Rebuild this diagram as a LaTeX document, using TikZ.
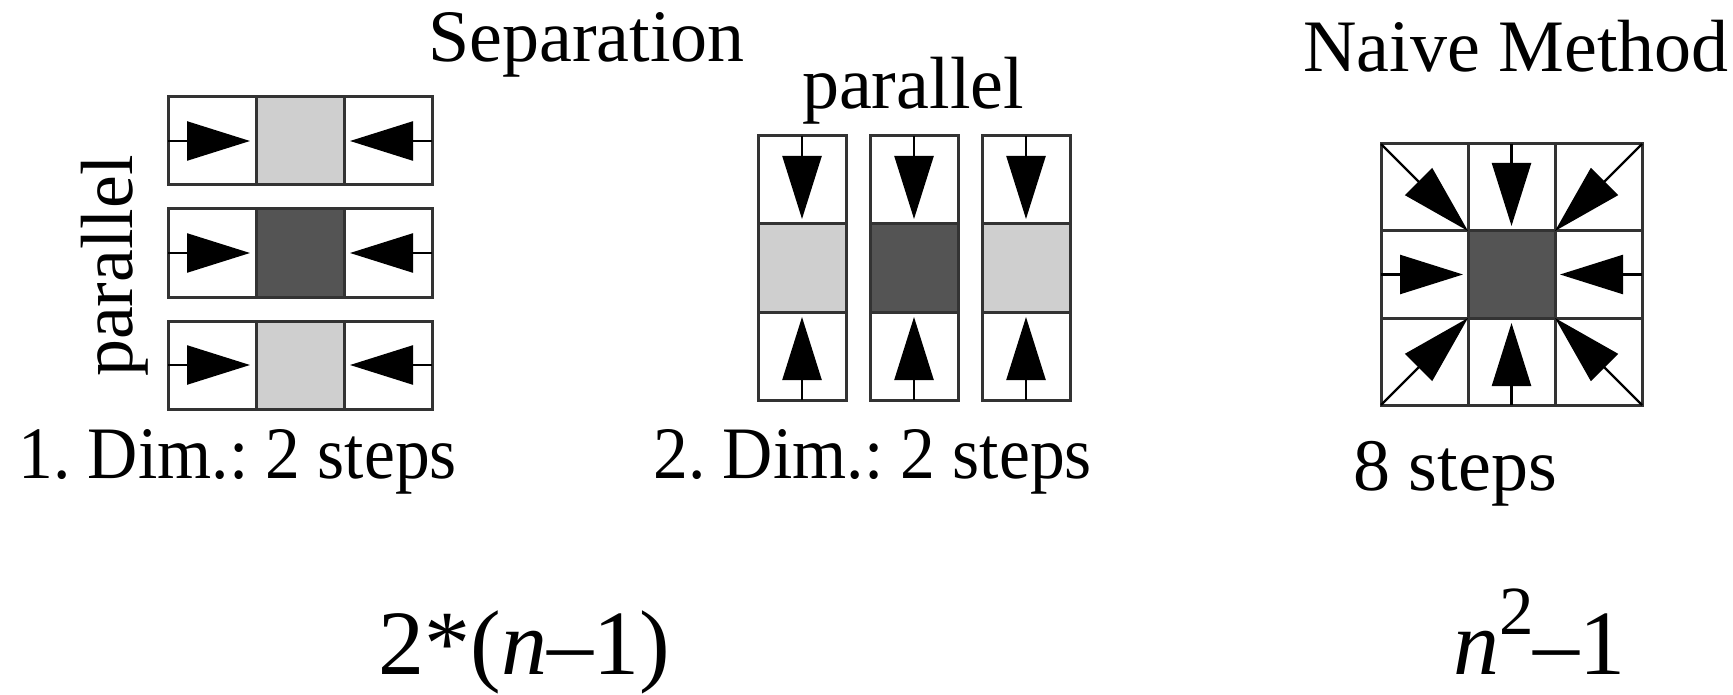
\documentclass[tikz,border=0pt]{standalone}
\usepackage{fontspec}
\setmainfont{Liberation Serif}
\usetikzlibrary{arrows.meta,calc}
\frenchspacing
\definecolor{CpixL}{gray}{0.81}
\definecolor{CpixD}{gray}{0.33}
\definecolor{Cgrid}{gray}{0.2}
\tikzset{
gridline/.style={draw=Cgrid, line width=1.5pt},
push/.style={line width=1.2pt, -{Triangle[length=31.5pt, width=19.5pt]}},
pushdiag/.style={line width=1.2pt, -{Triangle[length=35pt, width=19pt]}},
lbl/.style={inner sep=0pt, anchor=base west, font=\fontsize{37}{44}\selectfont},
formula/.style={inner sep=0pt, anchor=base west, text depth=0pt, font=\fontsize{46}{54}\selectfont},
}
\newcommand\bigsup[1]{\raisebox{0.43em}{\fontsize{34.5}{40}\selectfont #1}}

\begin{document}
\begin{tikzpicture}[x=0.5pt, y=-0.5pt]
\useasboundingbox (0,0) rectangle (1733,695);
\begin{scope}

%% Definitions
\pgfmathsetmacro{\cs}{88}
\pgfmathsetmacro{\csN}{87}

\newcommand\rowbox[3]
{
% left x: #1
% top y: #2
% pixel colour: #3
\fill[#3] (#1+\cs,#2) rectangle ++(\cs,\cs);
\draw[gridline] (#1,#2) rectangle ++(3*\cs,\cs);
\draw[gridline] (#1+\cs,#2) -- ++(0,\cs) (#1+2*\cs,#2) -- ++(0,\cs);
\draw[push] (#1,#2+\cs/2) -- ++(\cs-6,0);
\draw[push] (#1+3*\cs,#2+\cs/2) -- ++(-\cs+6,0);
}
%%
\newcommand\colbox[3]
{
% left x: #1
% top y: #2
% pixel colour: #3
\fill[#3] (#1,#2+\cs) rectangle ++(\cs,\cs);
\draw[gridline] (#1,#2) rectangle ++(\cs,3*\cs);
\draw[gridline] (#1,#2+\cs) -- ++(\cs,0) (#1,#2+2*\cs) -- ++(\cs,0);
\draw[push] (#1+\cs/2,#2) -- ++(0,\cs-5);
\draw[push] (#1+\cs/2,#2+3*\cs) -- ++(0,-\cs+5);
}

% --------------------------------------------------------

%% Separation - 1. Dim. (rows)
\rowbox{168}{97}{CpixL};
\rowbox{168}{209}{CpixD};
\rowbox{168}{321}{CpixL};

\node[lbl] (sep) at (428,62) {Separation};
\node[lbl, anchor=base, rotate=90] (parrows) at (132,266) {parallel};
\node[lbl, xscale=0.94] (dimone) at (18,478) {1. Dim.: 2 steps};

%% Separation - 2. Dim. (columns)
\colbox{758}{136}{CpixL};
\colbox{870}{136}{CpixD};
\colbox{982}{136}{CpixL};

\node[lbl, anchor=base] (parcols) at (913,109) {parallel};
\node[lbl, xscale=0.94] (dimtwo) at (653,478) {2. Dim.: 2 steps};

% --------------------------------------------------------

%% Naive method
\coordinate (mid) at (1381+1.5*\csN,144+1.5*\csN);
\fill[CpixD] ($(mid)+(-\csN/2,-\csN/2)$) rectangle ++(\csN,\csN);
\draw[gridline] (1381,144) rectangle ++(3*\csN,3*\csN);
\foreach \i in {1,2}
  \draw[gridline] (1381+\i*\csN,144) -- ++(0,3*\csN)
                  (1381,144+\i*\csN) -- ++(3*\csN,0);
\foreach \dx/\dy in {-1/0,1/0,0/-1,0/1}
  \draw[push] ($(mid)+(1.5*\dx*\csN,1.5*\dy*\csN)$) -- ($(mid)+({(\csN/2+5)*\dx},{(\csN/2+5)*\dy})$);
\foreach \dx/\dy in {-1/-1,1/-1,-1/1,1/1}
  \draw[pushdiag] ($(mid)+(1.5*\dx*\csN,1.5*\dy*\csN)$) -- ($(mid)+(\dx*\csN/2,\dy*\csN/2)$);

\node[lbl] (naive) at (1303,72) {Naive Method};
\node[lbl] (eight) at (1353,490) {8 steps};

% --------------------------------------------------------

%% costs
\node[formula] (costsep) at (378,674) {2*(\textit{n}–1)};
\node[formula] (costnaive) at (1453,674) {\textit{n}\bigsup{2}–1};

\end{scope}
\end{tikzpicture}
\end{document}
